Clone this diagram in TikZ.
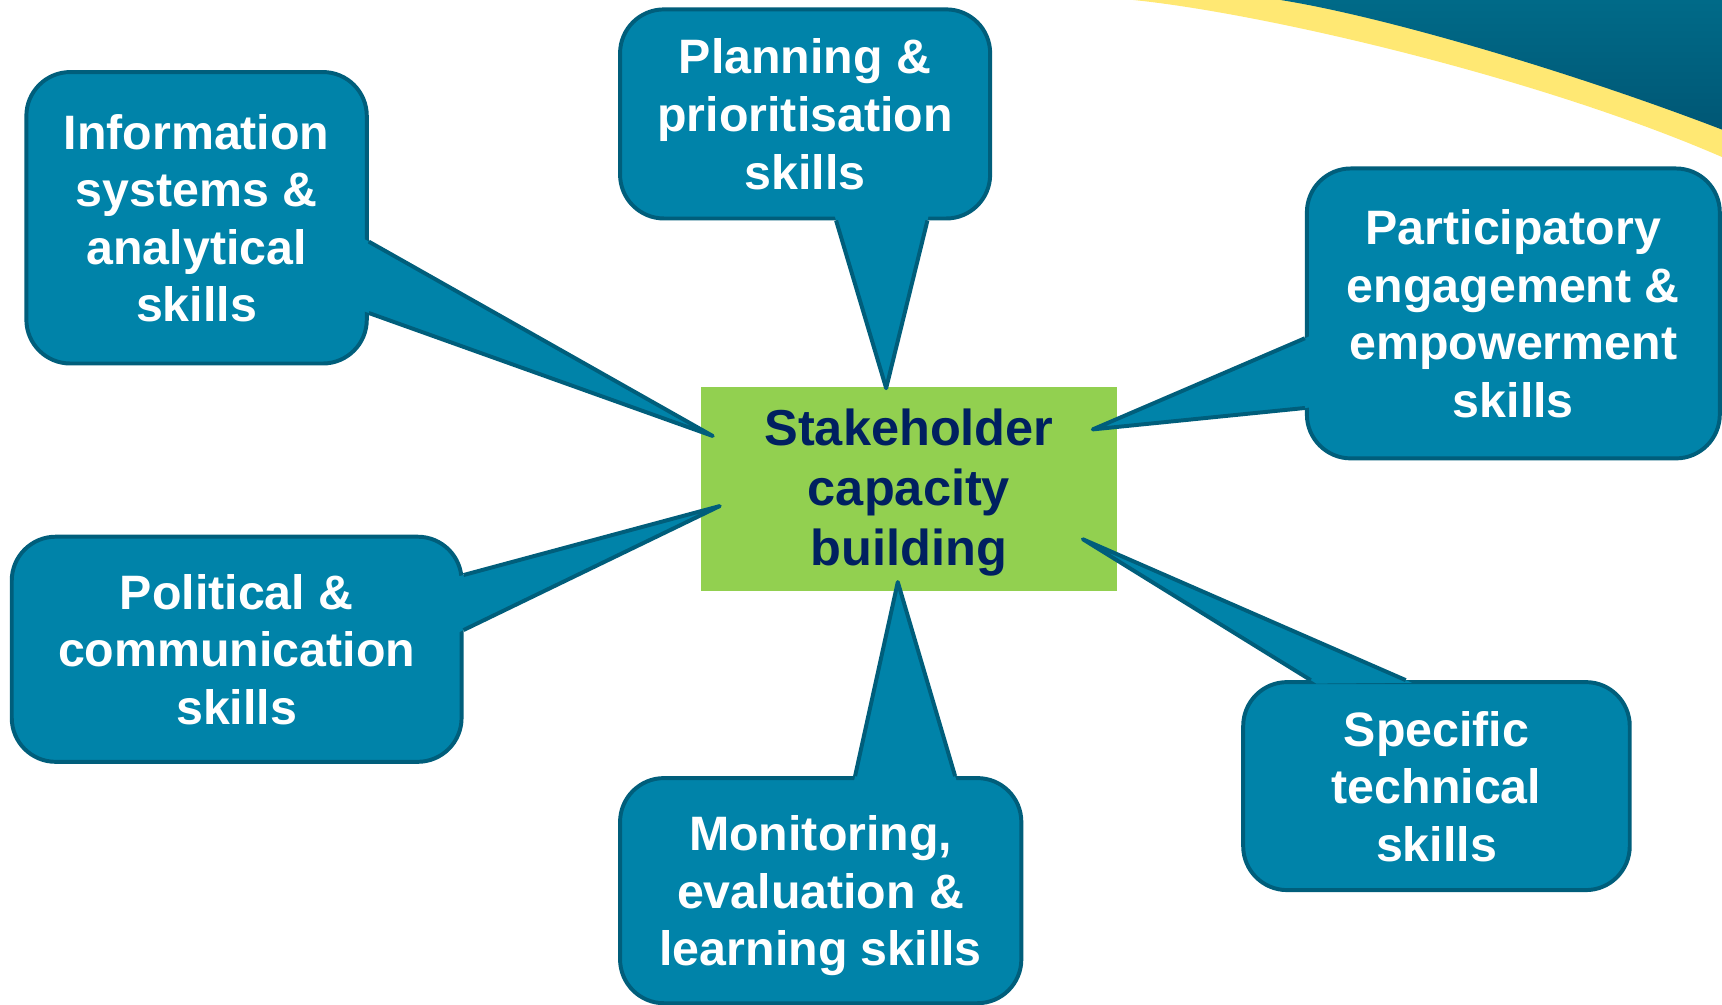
\documentclass[tikz,border=0pt]{standalone}
\usepackage{fontspec}
\setmainfont{Liberation Sans}
\usetikzlibrary{calc}
\definecolor{cofill}{HTML}{0083A9}
\definecolor{coline}{HTML}{005E7B}
\definecolor{cgreen}{HTML}{92D050}
\definecolor{cnavy}{HTML}{002060}
\definecolor{cyellow}{HTML}{FFE873}
\definecolor{ctealtop}{HTML}{006A88}
\definecolor{ctealbot}{HTML}{005775}
\newcommand{\ws}{\rule[-4.7pt]{0pt}{25.4pt}}
\newcommand{\ns}{\rule[-5.2pt]{0pt}{25.7pt}}
\begin{document}
\begin{tikzpicture}[x=0.5pt,y=-0.5pt,
  cobox/.style={draw=coline, fill=cofill, line width=1.8pt, rounded corners=20pt,
    text=white, font=\fontsize{22}{26.2}\selectfont\bfseries, align=center, inner sep=0pt},
  centerbox/.style={fill=cgreen, text=cnavy, font=\fontsize{23}{27.1}\selectfont\bfseries,
    align=center, inner sep=0pt},
  tailfill/.style={fill=cofill},
  tailline/.style={draw=coline, line width=1.8pt, line join=round}]
\useasboundingbox (0,0) rectangle (1568,915);
% decoration top right
\fill[cyellow] (1032,0) .. controls (1150,12) and (1400,70) .. (1568,143) -- (1568,0) -- cycle;
\shade[top color=ctealtop, bottom color=ctealbot] (1166,0) .. controls (1260,15) and (1430,65) .. (1568,118) -- (1568,0) -- cycle;
% centre
\node[centerbox, minimum width=189.3pt, minimum height=93pt] (center) at (827.7,445)
  {\ns Stakeholder\\capacity\\building\ns};
% callout boxes
\node[cobox, minimum width=155pt, minimum height=132.7pt] (info) at (179,198.3)
  {\ws Information\\systems \&\\analytical\\skills\ws};
\node[cobox, minimum width=168.5pt, minimum height=95.2pt] (plan) at (733.1,103.75)
  {\ws Planning \&\\prioritisation\\skills\ws};
\node[cobox, minimum width=188pt, minimum height=132pt] (part) at (1378,285.4)
  {\ws Participatory\\engagement \&\\empowerment\\skills\ws};
\node[cobox, minimum width=204.8pt, minimum height=102.5pt] (poli) at (215.5,591.2)
  {\ws Political \&\\communication\\skills\ws};
\node[cobox, minimum width=182.7pt, minimum height=102.5pt] (moni) at (747.3,811)
  {\ws Monitoring,\\evaluation \&\\learning skills\ws};
\node[cobox, minimum width=176pt, minimum height=94.7pt] (spec) at (1308,715.8)
  {\ws Specific\\technical\\skills\ws};
% tail points
\coordinate (ia) at (649,397);
\coordinate (ib1) at (info.east |- 0,220);
\coordinate (ib2) at (info.east |- 0,285);
\coordinate (pa) at (806.9,353.5);
\coordinate (pb1) at (761.3,0 |- plan.south);
\coordinate (pb2) at (844.5,0 |- plan.south);
\coordinate (qa) at (995,391);
\coordinate (qb1) at (part.west |- 0,308);
\coordinate (qb2) at (part.west |- 0,371.5);
\coordinate (la) at (655.4,460.8);
\coordinate (lb1) at (poli.east |- 0,523.6);
\coordinate (lb2) at (poli.east |- 0,573.7);
\coordinate (ma) at (817.5,530);
\coordinate (mb1) at (778.6,0 |- moni.north);
\coordinate (mb2) at (869.7,0 |- moni.north);
\coordinate (sa) at (986,491);
\coordinate (sb1) at (1193.5,0 |- spec.north);
\coordinate (sb2) at (1280,0 |- spec.north);
% tails
\foreach \a/\b/\c in {ia/ib1/ib2, pa/pb1/pb2, qa/qb1/qb2, la/lb1/lb2, ma/mb1/mb2, sa/sb1/sb2}{
  \fill[tailfill] ($(\b)!-3pt!(\a)$) -- (\a) -- ($(\c)!-3pt!(\a)$) -- cycle;
  \draw[tailline] (\b) -- (\a) -- (\c);
}
\end{tikzpicture}
\end{document}
